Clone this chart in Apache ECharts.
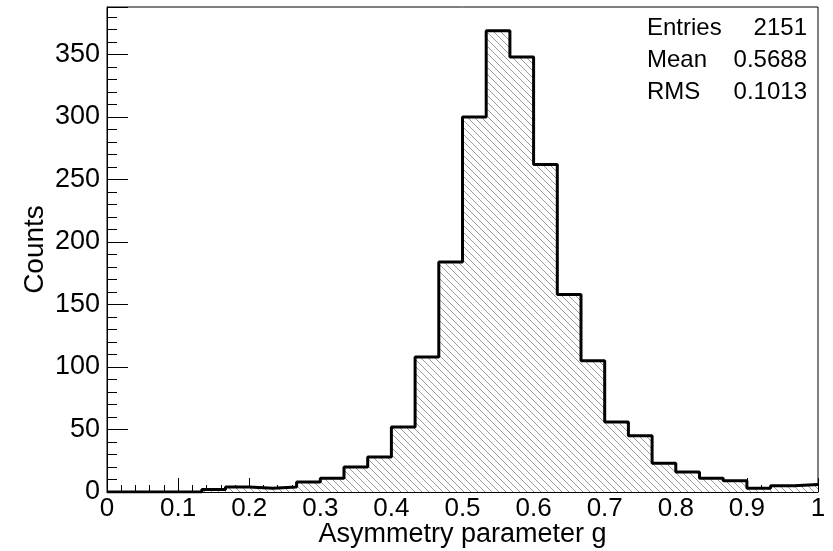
<!DOCTYPE html>
<html>
<head>
<meta charset="utf-8">
<script src="https://cdn.jsdelivr.net/npm/echarts@6/dist/echarts.min.js"></script>
<style>
html,body{margin:0;padding:0;background:#fff;}
#c{width:833px;height:551px;}
</style>
</head>
<body>
<div id="c"></div>
<script>
// ---- data ----
var nBins = 30;
var xMin = 0, xMax = 1;
var counts = [0, 0, 0, 0, 2, 4, 3, 4, 8, 11, 20, 28, 52, 108, 184, 300, 369, 348, 262, 158, 105, 56, 45, 23, 16, 11, 9, 3, 5, 6];
var statLabels = ['Entries', 'Mean', 'RMS'];
var statValues = ['2151', '0.5688', '0.1013'];
var xTitle = 'Asymmetry parameter g';
var yTitle = 'Counts';

// step points: left edge of each bin, plus the final right edge
var stepData = [];
for (var i = 0; i < nBins; i++) {
  stepData.push([xMin + (xMax - xMin) * i / nBins, counts[i]]);
}
stepData.push([xMax, counts[nBins - 1]]);

// hatch pattern
var pc = document.createElement('canvas');
var P = 7;
pc.width = P; pc.height = P;
var g = pc.getContext('2d');
g.fillStyle = '#fff';
g.fillRect(0, 0, P, P);
g.strokeStyle = '#9a9a9a';
g.lineWidth = 1;
g.beginPath();
g.moveTo(-1, -1); g.lineTo(P + 1, P + 1);
g.moveTo(-1, P - 1); g.lineTo(1, P + 1);
g.moveTo(P - 1, -1); g.lineTo(P + 1, 1);
g.stroke();

var FONT = '"Liberation Sans", Arial, Helvetica, sans-serif';

var chart = echarts.init(document.getElementById('c'), null, {renderer: 'canvas'});

var graphics = [];
for (var k = 0; k < statLabels.length; k++) {
  graphics.push({
    type: 'text', left: 647, top: 16 + k * 32,
    style: {text: statLabels[k], font: '24px ' + FONT, fill: '#000'}
  });
  graphics.push({
    type: 'text', right: 26, top: 16 + k * 32,
    style: {text: statValues[k], font: '24px ' + FONT, fill: '#000', textAlign: 'right'}
  });
}

chart.setOption({
  animation: false,
  backgroundColor: '#fff',
  grid: {left: 107, right: 15, top: 7, bottom: 59, show: true, borderColor: '#000', borderWidth: 1,
         backgroundColor: 'transparent', containLabel: false, outerBoundsMode: 'none'},
  xAxis: {
    type: 'value', min: xMin, max: xMax, interval: 0.1,
    name: xTitle, nameLocation: 'middle', nameGap: 29, nameMoveOverlap: false,
    nameTextStyle: {fontFamily: FONT, fontSize: 27, color: '#000'},
    axisLine: {show: true, onZero: false, lineStyle: {color: '#000', width: 1}},
    axisTick: {show: true, inside: true, length: 14, lineStyle: {color: '#000'}},
    minorTick: {show: true, splitNumber: 5, length: 7, lineStyle: {color: '#000'}},
    splitLine: {show: false},
    axisLabel: {fontFamily: FONT, fontSize: 26, color: '#000', margin: 4, showMinLabel: true, showMaxLabel: true}
  },
  yAxis: {
    type: 'value', min: 0, max: 388, interval: 50,
    name: yTitle, nameLocation: 'middle', nameGap: 58, nameRotate: 90, nameMoveOverlap: false,
    nameTextStyle: {fontFamily: FONT, fontSize: 28, color: '#000'},
    axisLine: {show: true, lineStyle: {color: '#000', width: 1}},
    axisTick: {show: true, inside: true, length: 21, lineStyle: {color: '#000'}},
    minorTick: {show: true, splitNumber: 5, length: 10, lineStyle: {color: '#000'}},
    splitLine: {show: false},
    axisLabel: {fontFamily: FONT, fontSize: 27, color: '#000', margin: 7, showMaxLabel: false}
  },
  series: [{
    type: 'line',
    data: stepData,
    step: 'end',
    symbol: 'none',
    smooth: false,
    clip: true,
    lineStyle: {color: '#000', width: 3},
    areaStyle: {color: {image: pc, repeat: 'repeat'}, opacity: 1, origin: 'start'},
    z: 3
  }],
  graphic: graphics
});
</script>
</body>
</html>
